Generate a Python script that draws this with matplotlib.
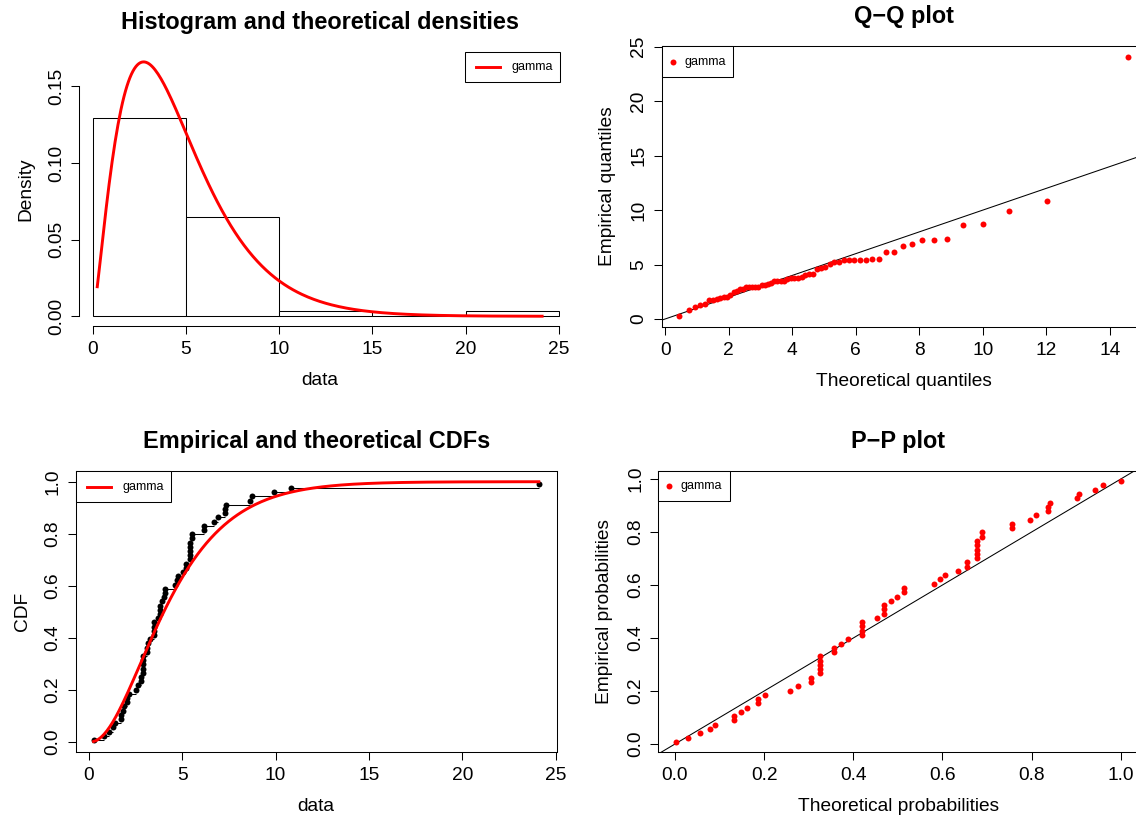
import math
import numpy as np
import matplotlib
matplotlib.use("Agg")
import matplotlib.pyplot as plt
from matplotlib.patches import Rectangle
from matplotlib.lines import Line2D

plt.rcParams["font.family"] = ["Liberation Sans", "DejaVu Sans"]

# sorted sample (read from the Q-Q / P-P / CDF panels), n = 62
data = np.array([
    0.25, 0.79, 1.09, 1.29, 1.39, 1.70, 1.70, 1.80, 1.89, 2.06,
    2.06, 2.16, 2.50, 2.61, 2.79, 2.79, 2.90, 2.90, 2.90, 2.90,
    2.90, 3.10, 3.10, 3.19, 3.29, 3.49, 3.49, 3.49, 3.49, 3.70,
    3.80, 3.80, 3.80, 3.90, 4.00, 4.10, 4.10, 4.59, 4.70, 4.79,
    5.03, 5.20, 5.20, 5.39, 5.39, 5.39, 5.39, 5.39, 5.50, 5.50,
    6.19, 6.19, 6.70, 6.90, 7.29, 7.29, 7.37, 8.63, 8.74, 9.90,
    10.80, 24.10,
])

# fitted gamma, estimated from the density curve
shape = 2.45
rate = 0.53

hist_breaks = [0, 5, 10, 15, 20, 25]
data_ticks = [0, 5, 10, 15, 20, 25]
dens_ticks = [0.00, 0.05, 0.10, 0.15]
dens_labels = ["0.00", "0.05", "0.10", "0.15"]
qq_xticks = [0, 2, 4, 6, 8, 10, 12, 14]
qq_yticks = [0, 5, 10, 15, 20, 25]
prob_ticks = [0.0, 0.2, 0.4, 0.6, 0.8, 1.0]
prob_labels = ["0.0", "0.2", "0.4", "0.6", "0.8", "1.0"]
legend_label = "gamma"

W, H = 1136, 817
TICK = 13.8
RED = "#FF0000"
MS = 4.3


def dgamma(x):
    x = np.asarray(x, float)
    return np.exp(shape * np.log(rate) + (shape - 1) * np.log(x) - rate * x - math.lgamma(shape))


def pgamma(x):
    z = np.asarray(x, float) * rate
    out = np.zeros_like(z)
    pos = z > 0
    zp = z[pos]
    term = np.full_like(zp, 1.0 / shape)
    s = term.copy()
    for k in range(1, 400):
        term = term * zp / (shape + k)
        s += term
    out[pos] = np.exp(shape * np.log(zp) - zp - math.lgamma(shape)) * s
    return out


_grid = np.linspace(0, 60, 30001)
_cdf = pgamma(_grid)


def qgamma(p):
    return np.interp(p, _cdf, _grid)


def widen(lo, hi):
    r = hi - lo
    return lo - 0.04 * r, hi + 0.04 * r


def make_axes(fig, xlim, ylim, xref, yref):
    # place axes so that the reference ticks land on the given pixels
    (xv0, xp0), (xv1, xp1) = xref
    (yv0, yp0), (yv1, yp1) = yref
    sx = (xp1 - xp0) / (xv1 - xv0)
    sy = (yp1 - yp0) / (yv1 - yv0)
    left = xp0 + (xlim[0] - xv0) * sx
    right = xp0 + (xlim[1] - xv0) * sx
    top = yp0 + (ylim[1] - yv0) * sy
    bottom = yp0 + (ylim[0] - yv0) * sy
    ax = fig.add_axes([left / W, 1 - bottom / H, (right - left) / W, (bottom - top) / H])
    ax.set_xlim(xlim)
    ax.set_ylim(ylim)
    return ax


def style(ax, boxed=True):
    for sp in ax.spines.values():
        sp.set_linewidth(0.75)
        sp.set_color("black")
    if not boxed:
        ax.spines["top"].set_visible(False)
        ax.spines["right"].set_visible(False)
    ax.tick_params(direction="out", length=5.5, width=0.75, labelsize=TICK, colors="black")
    ax.tick_params(axis="x", pad=5.3)
    ax.tick_params(axis="y", pad=4.6)
    for lab in ax.get_yticklabels():
        lab.set_rotation(90)
        lab.set_va("center")


def labels(ax, xlabel, ylabel):
    ax.set_xlabel(xlabel, fontsize=TICK, labelpad=10)
    ax.set_ylabel(ylabel, fontsize=TICK, labelpad=10.2)


def px_box(ax):
    bb = ax.get_position()
    return bb.x0 * W, bb.x1 * W, (1 - bb.y1) * H, (1 - bb.y0) * H


def add_title(fig, ax, text):
    left, right, top, bottom = px_box(ax)
    cx = (left + right) / 2
    fig.text(cx / W, 1 - (top - 23) / H, text, ha="center", va="baseline",
             fontsize=16.9, fontweight="bold")


def add_legend(fig, ax, kind, color, corner="left"):
    left, right, top, bottom = px_box(ax)
    w = 95 if kind == "line" else 71.5
    h = 30.5
    x0 = right - w if corner == "right" else left
    y0 = top
    fig.patches.append(Rectangle((x0 / W, 1 - (y0 + h) / H), w / W, h / H,
                                 transform=fig.transFigure, facecolor="white",
                                 edgecolor="black", linewidth=0.75, zorder=5))
    yc = 1 - (y0 + 15.6) / H
    if kind == "line":
        fig.lines.append(Line2D([(x0 + 11.3) / W, (x0 + 35.3) / W], [yc, yc],
                                transform=fig.transFigure, color=color, lw=2.1, zorder=6))
        tx = x0 + 46.4
    else:
        fig.lines.append(Line2D([(x0 + 11.2) / W], [yc], marker="o", ms=MS, mew=0,
                                color=color, transform=fig.transFigure, zorder=6))
        tx = x0 + 22.8
    fig.text(tx / W, yc, legend_label, ha="left", va="center", fontsize=9, zorder=7)


fig = plt.figure(figsize=(W / 100, H / 100), dpi=100)

n = len(data)
obsp = (np.arange(1, n + 1) - 0.5) / n
xs = np.linspace(data.min(), data.max(), 301)
dens = dgamma(xs)
data_lim = widen(data.min(), data.max())

# histogram and theoretical density
ax1 = make_axes(fig, data_lim, (-0.04 * dens.max(), 1.04 * dens.max()),
                ((0, 92.6), (25, 558.9)), ((0, 316.3), (0.15, 86.3)))
ax1.hist(data, bins=hist_breaks, density=True, facecolor="white",
         edgecolor="black", linewidth=0.75)
ax1.plot(xs, dens, color=RED, lw=2.1)
ax1.set_xticks(data_ticks)
ax1.set_yticks(dens_ticks)
ax1.set_yticklabels(dens_labels)
ax1.spines["left"].set_bounds(0, 0.15)
ax1.spines["bottom"].set_bounds(0, 25)
style(ax1, boxed=False)
labels(ax1, "data", "Density")
add_title(fig, ax1, "Histogram and theoretical densities")
add_legend(fig, ax1, "line", RED, corner="right")

# Q-Q plot
tq = qgamma(obsp)
ax2 = make_axes(fig, widen(tq.min(), tq.max()), data_lim,
                ((0, 665.1), (14, 1110)), ((0, 319), (25, 46.7)))
ax2.axline((0, 0), slope=1, color="black", lw=0.75)
ax2.plot(tq, data, "o", color=RED, ms=MS, mew=0)
ax2.set_xticks(qq_xticks)
ax2.set_yticks(qq_yticks)
style(ax2)
labels(ax2, "Theoretical quantiles", "Empirical quantiles")
add_title(fig, ax2, "Q\u2212Q plot")
add_legend(fig, ax2, "point", RED)

# empirical and theoretical CDFs
ax3 = make_axes(fig, data_lim, (-0.04, 1.04),
                ((0, 88.9), (25, 555.6)), ((0, 742), (1, 481.7)))
ax3.hlines(obsp[:-1], data[:-1], data[1:], colors="black", lw=0.75)
ax3.plot(data, obsp, "o", color="black", ms=MS, mew=0)
ax3.plot(xs, pgamma(xs), color=RED, lw=2.1)
ax3.set_xticks(data_ticks)
ax3.set_yticks(prob_ticks)
ax3.set_yticklabels(prob_labels)
style(ax3)
labels(ax3, "data", "CDF")
add_title(fig, ax3, "Empirical and theoretical CDFs")
add_legend(fig, ax3, "line", RED)

# P-P plot
tp = pgamma(data)
ax4 = make_axes(fig, widen(tp.min(), tp.max()), widen(obsp.min(), obsp.max()),
                ((0, 675), (1, 1120.8)), ((0, 744), (1, 479)))
ax4.axline((0, 0), slope=1, color="black", lw=0.75)
ax4.plot(tp, obsp, "o", color=RED, ms=MS, mew=0)
ax4.set_xticks(prob_ticks)
ax4.set_xticklabels(prob_labels)
ax4.set_yticks(prob_ticks)
ax4.set_yticklabels(prob_labels)
style(ax4)
labels(ax4, "Theoretical probabilities", "Empirical probabilities")
add_title(fig, ax4, "P\u2212P plot")
add_legend(fig, ax4, "point", RED)

fig.savefig("out.png", dpi=100)
plt.close(fig)
